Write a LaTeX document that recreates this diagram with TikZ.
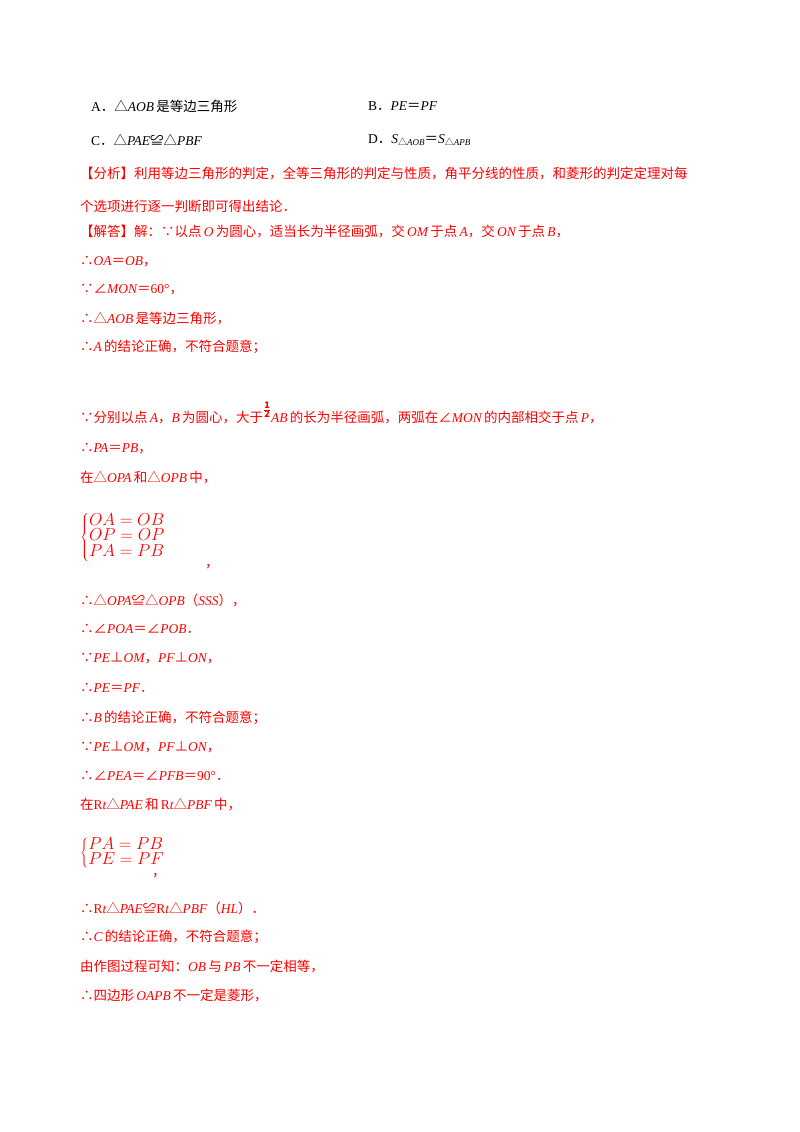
\documentclass[tikz,border=0pt]{standalone}
\usepackage{fontspec}
\setmainfont{Noto Sans CJK SC}
\newfontfamily\tms{Liberation Serif}
\usetikzlibrary{positioning}
\newcommand{\vi}[1]{{\tms\itshape #1}}
\newcommand{\vr}[1]{{\tms #1}}
\tikzset{txt/.style={anchor=west,inner sep=0pt,font=\fontsize{13.5}{14}\selectfont},
  red/.style={txt,text=red},
  sys/.style={red,font=\fontsize{16}{16}\selectfont}}
\begin{document}
\begin{tikzpicture}[x=1pt,y=-1pt]
\useasboundingbox (0,0) rectangle (800,1132);
\node[txt] at (91,106) (oa) {\vr{A}．△\vi{AOB}\,是等边三角形};
\node[txt] at (368,106) (ob) {\vr{B}．\vi{PE}＝\vi{PF}};
\node[txt] at (91,140) (oc) {\vr{C}．△\vi{PAE}≌△\vi{PBF}};
\node[txt] at (368,140) (od) {\vr{D}．\vi{S}\raisebox{-2pt}{\fontsize{9}{9}\selectfont△\vi{AOB}}＝\vi{S}\raisebox{-2pt}{\fontsize{9}{9}\selectfont△\vi{APB}}};
\node[red] at (80,173) (fx) {【分析】利用等边三角形的判定，全等三角形的判定与性质，角平分线的性质，和菱形的判定定理对每};
\node[red] at (80,206) (fx2) {个选项进行逐一判断即可得出结论．};
\node[red] at (80,231) (jd) {【解答】解：∵以点\,\vi{O}\,为圆心，适当长为半径画弧，交\,\vi{OM}\,于点\,\vi{A}，交\,\vi{ON}\,于点\,\vi{B}，};
\node[red] at (80,262) (s1) {∴\vi{OA}＝\vi{OB}，};
\node[red] at (80,290) (s2) {∵∠\vi{MON}＝\vr{60°}，};
\node[red] at (80,319) (s3) {∴△\vi{AOB}\,是等边三角形，};
\node[red] at (80,347) (s4) {∴\vi{A}\,的结论正确，不符合题意；};
\node[red] at (80,413) (s5) {∵分别以点\,\vi{A}，\vi{B}\,为圆心，大于\raisebox{9pt}{\fontsize{13}{13}\selectfont$\mathbf{\frac{1}{2}}$}\vi{AB}\,的长为半径画弧，两弧在∠\vi{MON}\,的内部相交于点\,\vi{P}，};
\node[red] at (80,449) (s6) {∴\vi{PA}＝\vi{PB}，};
\node[red] at (80,478) (s7) {在△\vi{OPA}\,和△\vi{OPB}\,中，};
\node[sys] at (80,537) (s8) {$\left\{\renewcommand{\arraystretch}{0.8}\begin{array}{@{}l@{}}OA=OB\\ OP=OP\\ PA=PB\end{array}\right.$};
\node[red] at (205,567) (c1) {，};
\node[red] at (80,600) (s9) {∴△\vi{OPA}≌△\vi{OPB}（\vi{SSS}），};
\node[red] at (80,629) (s10) {∴∠\vi{POA}＝∠\vi{POB}．};
\node[red] at (80,658) (s11) {∵\vi{PE}⊥\vi{OM}，\vi{PF}⊥\vi{ON}，};
\node[red] at (80,688) (s12) {∴\vi{PE}＝\vi{PF}．};
\node[red] at (80,718) (s13) {∴\vi{B}\,的结论正确，不符合题意；};
\node[red] at (80,747) (s14) {∵\vi{PE}⊥\vi{OM}，\vi{PF}⊥\vi{ON}，};
\node[red] at (80,776) (s15) {∴∠\vi{PEA}＝∠\vi{PFB}＝\vr{90°}．};
\node[red] at (80,805) (s16) {在\vr{R}\vi{t}△\vi{PAE}\,和\,\vr{R}\vi{t}△\vi{PBF}\,中，};
\node[sys] at (80,853) (s17) {$\left\{\renewcommand{\arraystretch}{0.8}\begin{array}{@{}l@{}}PA=PB\\ PE=PF\end{array}\right.$};
\node[red] at (152,876) (c2) {，};
\node[red] at (80,908) (s18) {∴\vr{R}\vi{t}△\vi{PAE}≌\vr{R}\vi{t}△\vi{PBF}（\vi{HL}）．};
\node[red] at (80,937) (s19) {∴\vi{C}\,的结论正确，不符合题意；};
\node[red] at (80,966) (s20) {由作图过程可知：\vi{OB}\,与\,\vi{PB}\,不一定相等，};
\node[red] at (80,995) (s21) {∴四边形\,\vi{OAPB}\,不一定是菱形，};
\end{tikzpicture}
\end{document}
